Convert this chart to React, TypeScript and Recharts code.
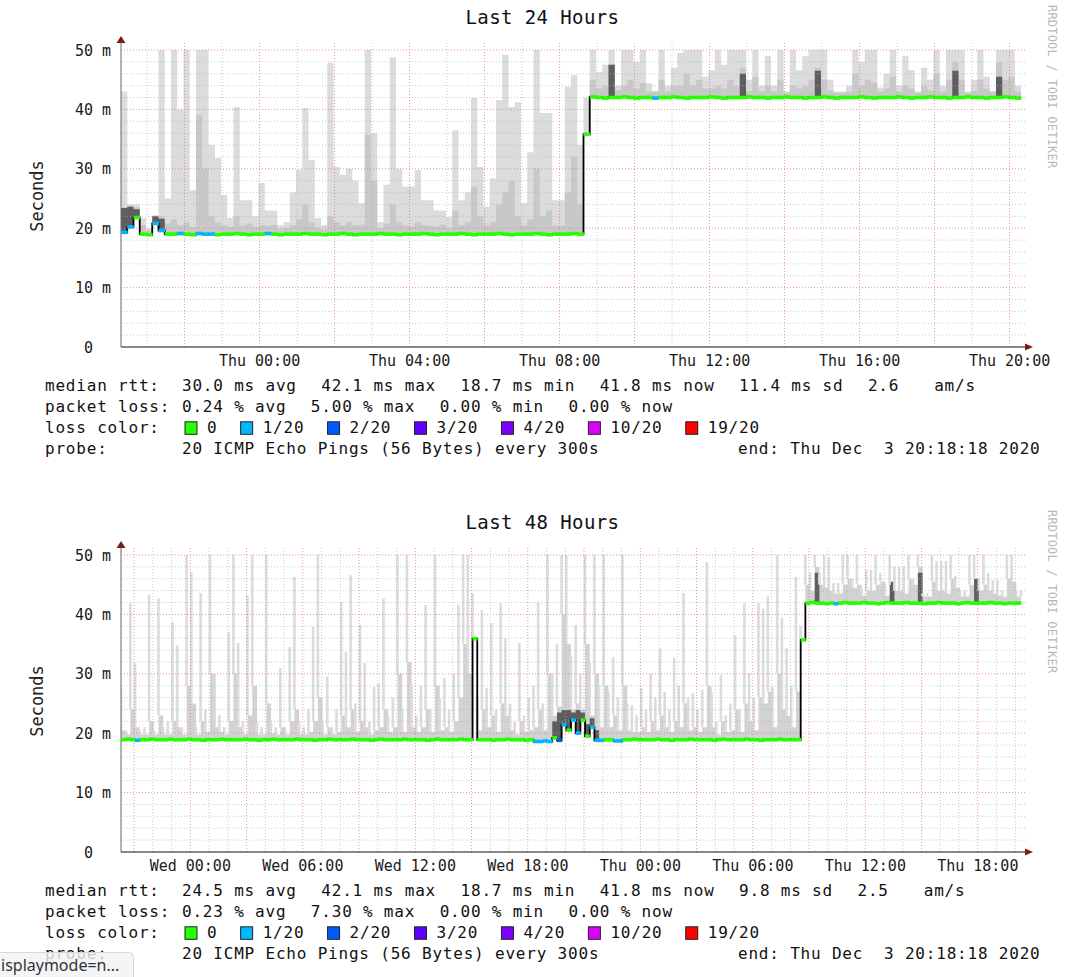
import React from 'react';
import { ComposedChart, Area, Bar, Line, Scatter, XAxis, YAxis, ReferenceLine, ReferenceDot } from 'recharts';

const MONO = "'DejaVu Sans Mono', monospace";

// smokeping loss colours
const lossLabels = ['0', '1/20', '2/20', '3/20', '4/20', '10/20', '19/20'];
const lossColors = ['#26ff00', '#00b8ff', '#0059ff', '#5e00ff', '#7e00ff', '#dd00ff', '#ff0000'];

const yTicks = [0, 10, 20, 30, 40, 50];

// ---- Last 24 Hours: 144 samples of 10 minutes, starting Wed 20:18 ----
const p1TickHours = [3.695, 7.695, 11.695, 15.695, 19.695, 23.695];
const p1TickLabels = ['Thu 00:00', 'Thu 04:00', 'Thu 08:00', 'Thu 12:00', 'Thu 16:00', 'Thu 20:00'];

const p1Max = [
  43, 24, 24, 21.7, 20, 22.2, 50, 25, 50, 40,
  50, 26.4, 50, 50, 34, 31.8, 25.6, 21.7, 40.4, 24.7,
  24.7, 22, 27.6, 23, 23, 20.5, 21, 26, 29.8, 40.2,
  31.5, 21.7, 20.5, 47.8, 30.3, 29, 30, 28, 24.2, 50,
  36, 21, 27.3, 48.8, 30, 27, 27, 29.8, 24.7, 24.7,
  23, 23, 21.9, 36.5, 24.7, 26, 41.9, 30.3, 23.6, 28.4,
  41.6, 49.2, 40.4, 41.2, 24.2, 32.8, 50, 39.4, 39.4, 24.7,
  24.7, 43.8, 45.8, 34, 42, 50, 46.3, 47.5, 50, 44,
  50, 50, 48, 50, 44.4, 43, 50, 44, 47, 49.5,
  50, 50, 50, 45.5, 46.6, 50, 47.5, 50, 50, 50,
  45, 50, 44, 49, 44, 50, 43, 50, 46.6, 49,
  50, 50, 50, 45, 43, 43, 44, 50, 48, 50,
  50, 43.7, 46, 50, 44, 49, 46.6, 43, 47, 45,
  50, 44, 50, 50, 50, 43, 45, 50, 45.5, 43,
  50, 50, 50, 44,
];

const p1Mid = [
  23.5, 23.8, 23.5, 20.5, 19.6, 22, 22, 20.8, 21.5, 20.5,
  21, 20.2, 39, 30, 22, 21, 20.5, 20.2, 22, 20.5,
  20.8, 20.2, 20.5, 20.4, 20.6, 19.8, 20, 20.5, 21.5, 24,
  21, 20, 19.8, 22, 21, 20.5, 21, 20.5, 20.6, 35.7,
  28, 20, 20.8, 24, 21, 20.5, 20.3, 21, 20.5, 20.4,
  20.2, 20.6, 20, 23, 20.5, 21, 27, 22, 20.5, 21,
  24, 26, 28, 22, 20.5, 21.5, 30, 22, 23, 20.5,
  20.4, 26, 32, 24, 36, 45, 43.5, 44, 47.5, 43.2,
  44, 45, 43.5, 44.5, 43, 43, 45, 43, 44, 44,
  46, 44, 45, 43.5, 43.5, 44, 43.5, 45, 44, 47,
  43, 45.5, 43, 44, 43, 45, 42.8, 44, 43.5, 44,
  45, 47, 45, 43.2, 42.8, 42.8, 43, 46, 44, 45,
  44.5, 43, 43.5, 45.5, 43, 44, 43.5, 42.8, 44, 43.2,
  46, 43, 45, 48, 45, 42.8, 43.2, 45, 43.5, 43,
  48, 45, 45.5, 43,
];

const p1Median = [
  19.3, 20.2, 21.8, 19.0, 18.9, 20.8, 19.6, 19.0, 19.0, 19.1,
  19.0, 18.9, 19.1, 19.0, 19.0, 18.9, 19.0, 19.0, 19.1, 19.0,
  18.9, 19.0, 19.0, 19.1, 19.0, 18.9, 19.0, 19.0, 19.0, 19.1,
  19.0, 19.0, 18.9, 19.0, 19.0, 19.1, 19.0, 18.9, 19.0, 19.0,
  19.0, 19.1, 19.0, 19.0, 18.9, 19.0, 19.0, 19.0, 19.1, 19.0,
  18.9, 19.0, 19.0, 19.0, 19.1, 19.0, 18.9, 19.0, 19.0, 19.0,
  19.1, 19.0, 18.9, 19.0, 19.0, 19.0, 19.1, 19.0, 18.9, 19.0,
  19.0, 19.0, 19.1, 19.0, 35.8, 42.1, 42.0, 41.9, 42.0, 42.0,
  42.1, 42.0, 41.9, 42.0, 42.0, 41.9, 42.0, 42.0, 42.1, 42.0,
  41.9, 42.0, 42.0, 42.0, 42.1, 42.0, 41.9, 42.0, 42.0, 42.0,
  42.1, 42.0, 42.0, 41.9, 42.0, 42.0, 42.1, 42.0, 42.0, 41.9,
  42.0, 42.0, 42.1, 42.0, 41.9, 42.0, 42.0, 42.0, 42.1, 42.0,
  41.9, 42.0, 42.0, 42.0, 42.1, 42.0, 41.9, 42.0, 42.0, 42.1,
  42.0, 42.0, 41.9, 42.0, 42.0, 42.1, 42.0, 42.0, 41.9, 42.0,
  42.0, 42.1, 42.0, 41.9,
];

const p1Loss = [
  1, 1, 0, 0, 0, 1, 1, 0, 0, 1,
  0, 0, 1, 1, 1, 0, 0, 0, 0, 0,
  0, 0, 0, 1, 0, 0, 0, 0, 0, 0,
  0, 0, 0, 0, 0, 0, 0, 0, 0, 0,
  0, 0, 0, 0, 0, 0, 0, 0, 0, 0,
  0, 0, 0, 0, 0, 0, 0, 0, 0, 0,
  0, 0, 0, 0, 0, 0, 0, 0, 0, 0,
  0, 0, 0, 0, 0, 0, 0, 0, 0, 0,
  0, 0, 0, 0, 0, 1, 0, 0, 0, 0,
  0, 0, 0, 0, 0, 0, 0, 0, 0, 0,
  0, 0, 0, 0, 0, 0, 0, 0, 0, 0,
  0, 0, 0, 0, 0, 0, 0, 0, 0, 0,
  0, 0, 0, 0, 0, 0, 0, 0, 0, 0,
  0, 0, 0, 0, 0, 0, 0, 0, 0, 0,
  0, 0, 0, 0,
];

// dark smoke close to the median: [sample, top]
const p1Dense: [number, number][] = [
  [0, 23.4], [1, 23.6], [2, 23.2], [5, 22], [6, 21.6], [78, 47.5], [99, 46], [111, 46.5], [133, 46.5], [140, 45.5],
];

const p1Stats = ['30.0 ms avg', '42.1 ms max', '18.7 ms min', '41.8 ms now', '11.4 ms sd', '2.6 ', 'am/s'];
const p1LossStats = ['0.24 % avg', '5.00 % max', '0.00 % min', '0.00 % now'];

// ---- Last 48 Hours: 192 samples of 15 minutes, starting Tue 20:18 ----
const p2TickHours = [3.695, 9.695, 15.695, 21.695, 27.695, 33.695, 39.695, 45.695];
const p2TickLabels = ['Wed 00:00', 'Wed 06:00', 'Wed 12:00', 'Wed 18:00', 'Thu 00:00', 'Thu 06:00', 'Thu 12:00', 'Thu 18:00'];

const p2Max = [
  27.4, 20.5, 41.9, 31.8, 20.5, 21, 43.3, 20.5, 42.7, 21,
  22, 38.7, 34.8, 21, 50, 47.1, 21, 43.6, 24, 50,
  30, 23, 21, 37, 50, 35.2, 22, 43.3, 50, 22,
  21, 50, 22, 21, 31, 21, 34.5, 46.3, 22, 21,
  24, 37.9, 50, 22, 29.5, 21, 24, 42.1, 33.7, 46.6,
  25, 38.2, 31.8, 22, 27.8, 28.4, 42.7, 23, 26, 50,
  24, 50, 28, 23, 28, 41.6, 24, 50, 26, 29.3,
  24, 30, 41.6, 50, 50, 43.6, 26, 40.7, 27.6, 38.5,
  24, 41.9, 36, 25, 22, 35.2, 23, 26, 28, 42.1,
  25, 50, 30, 35, 50, 50, 33, 38.2, 30, 50,
  32, 50, 28, 50, 27, 32.8, 26, 50, 25, 24.7,
  23, 27.6, 24, 30, 26, 34.3, 27, 24, 32.7, 28,
  43.6, 26, 26.8, 24, 27.3, 48.8, 26.8, 22, 29.8, 23,
  25, 36.5, 24, 41.9, 30.1, 26, 41.9, 41, 43, 27.8,
  50, 39.4, 34.3, 28, 46.3, 38, 50, 47, 50, 47,
  50, 49.6, 45.3, 45.3, 50, 50, 46, 50, 44.6, 47.5,
  47.5, 50, 47, 45.3, 50, 48, 48, 48, 50, 46,
  50, 43.6, 43.6, 50, 49, 49, 49, 50, 46.5, 44,
  44, 50, 50, 46, 50, 47, 45.8, 45.8, 44, 50,
  50, 44,
];

const p2Mid = [
  20.5, 19.8, 24, 21, 19.8, 19.8, 22, 19.8, 23, 19.8,
  19.8, 22, 21, 19.8, 28, 25, 19.8, 22, 20.2, 30,
  21, 20.2, 19.8, 22, 30, 21, 19.8, 23, 28, 19.8,
  19.8, 25, 20, 19.8, 21, 19.8, 22, 24, 19.8, 19.8,
  20.2, 22, 26, 19.8, 21, 19.8, 20.2, 23, 21, 24,
  20.2, 22, 21, 19.8, 20.5, 21, 24, 20.2, 21, 30,
  20.2, 32, 21, 20.2, 21, 24, 20.2, 28, 20.5, 21,
  20.2, 22, 26, 35, 30, 36, 20.5, 24, 21, 23,
  20.2, 25, 23, 20.5, 19.8, 22, 20.2, 20.5, 21, 24,
  20.5, 30, 23, 24.5, 40, 35, 24, 25, 24, 35,
  23, 30, 21, 28, 21, 23, 20.5, 28, 20.5, 20.2,
  20.2, 21, 20.2, 22, 20.5, 23, 21, 20.2, 22, 21,
  25, 20.5, 21, 20.2, 21, 28, 21, 19.8, 22, 20.2,
  20.5, 24, 20.2, 25, 22, 20.5, 26, 25, 27, 21,
  30, 24, 23, 21, 27, 36, 45, 44, 48, 45,
  44.5, 44, 43.5, 43.5, 45, 46, 44.5, 45, 43.2, 44,
  44, 45, 45.5, 43.2, 45, 44, 44, 43.5, 46, 45,
  48, 43, 43, 45.5, 44, 44, 43.5, 46, 44.5, 43,
  43, 45, 46, 44, 45, 44, 43.5, 43.2, 43, 46,
  45.5, 43,
];

const p2Median = [
  18.9, 19.0, 18.9, 18.8, 18.9, 18.9, 19.0, 18.9, 18.9, 18.9,
  19.0, 18.9, 18.9, 18.9, 19.0, 18.9, 18.9, 18.8, 18.9, 18.9,
  18.9, 19.0, 18.9, 18.9, 18.9, 18.9, 19.0, 18.9, 18.9, 18.8,
  18.9, 18.9, 19.0, 18.9, 18.9, 18.9, 18.9, 19.0, 18.9, 18.9,
  18.9, 18.8, 18.9, 18.9, 19.0, 18.9, 18.9, 18.9, 18.9, 19.0,
  18.9, 18.9, 18.9, 18.8, 18.9, 19.0, 18.9, 18.9, 18.9, 18.9,
  19.0, 18.9, 18.9, 18.9, 18.9, 18.8, 18.9, 19.0, 18.9, 18.9,
  18.9, 18.9, 19.0, 18.9, 18.9, 35.9, 18.9, 18.9, 18.9, 18.8,
  18.9, 18.9, 19.0, 18.9, 18.9, 18.9, 18.8, 18.9, 18.6, 18.6,
  18.7, 18.6, 19.2, 18.8, 21.4, 20.5, 22.2, 20.0, 22.2, 19.5,
  21.0, 18.8, 18.8, 18.9, 18.9, 18.7, 18.7, 18.9, 18.9, 19.0,
  18.9, 18.9, 18.9, 18.9, 19.0, 18.9, 18.9, 18.8, 18.9, 18.9,
  18.9, 19.0, 18.9, 18.9, 18.9, 18.9, 18.8, 18.9, 19.0, 18.9,
  18.9, 18.9, 18.9, 19.0, 18.9, 18.9, 18.8, 18.9, 18.9, 18.9,
  19.0, 18.9, 18.9, 18.9, 18.9, 35.7, 41.9, 42.0, 41.9, 41.9,
  41.8, 41.9, 41.8, 41.9, 42.0, 41.9, 41.9, 41.9, 42.0, 41.9,
  41.9, 41.8, 41.9, 42.0, 41.9, 41.9, 41.9, 42.0, 41.9, 41.9,
  41.9, 41.8, 41.9, 41.9, 42.0, 41.9, 41.9, 41.9, 41.8, 41.9,
  42.0, 41.9, 41.9, 41.9, 41.9, 42.0, 41.9, 41.9, 41.8, 41.9,
  41.9, 41.9,
];

const p2Loss = [
  0, 0, 0, 1, 0, 0, 0, 0, 0, 0,
  0, 0, 0, 0, 0, 0, 0, 0, 0, 0,
  0, 0, 0, 0, 0, 0, 0, 0, 0, 0,
  0, 0, 0, 0, 0, 0, 0, 0, 0, 0,
  0, 0, 0, 0, 0, 0, 0, 0, 0, 0,
  0, 0, 0, 0, 0, 0, 0, 0, 0, 0,
  0, 0, 0, 0, 0, 0, 0, 0, 0, 0,
  0, 0, 0, 0, 0, 0, 0, 0, 0, 0,
  0, 0, 0, 0, 0, 0, 0, 0, 1, 1,
  1, 1, 0, 2, 1, 0, 1, 1, 0, 0,
  1, 1, 1, 0, 0, 1, 1, 0, 0, 0,
  0, 0, 0, 0, 0, 0, 0, 0, 0, 0,
  0, 0, 0, 0, 0, 0, 0, 0, 0, 0,
  0, 0, 0, 0, 0, 0, 0, 0, 0, 0,
  0, 0, 0, 0, 0, 0, 0, 0, 0, 0,
  0, 0, 1, 0, 0, 0, 0, 0, 0, 0,
  0, 0, 0, 0, 0, 0, 0, 0, 0, 0,
  0, 0, 0, 0, 0, 0, 0, 0, 0, 0,
  0, 0, 0, 0, 0, 0, 0, 0, 0, 0,
  0, 0,
];

const p2Dense: [number, number][] = [
  [92, 22], [93, 23.5], [94, 23.9], [95, 23.9], [96, 23.5], [97, 23.9], [98, 23.5], [99, 21.5], [100, 22.5],
  [101, 20.5], [148, 47], [164, 45.5], [170, 47], [182, 46],
];

const p2Stats = ['24.5 ms avg', '42.1 ms max', '18.7 ms min', '41.8 ms now', '9.8 ms sd', '2.5 ', 'am/s'];
const p2LossStats = ['0.23 % avg', '7.30 % max', '0.00 % min', '0.00 % now'];

const probeText = '20 ICMP Echo Pings (56 Bytes) every 300s';
const endText = 'end: Thu Dec  3 20:18:18 2020';

// ---- layout ----
const CHART_W = 1074;
const CHART_H = 380;
const PLOT_L = 121;
const PLOT_R = 1025;
const PLOT_TOP = 43;
const AXIS_H = 33;
const Y_MAX = 50 * (CHART_H - AXIS_H - PLOT_TOP) / (CHART_H - AXIS_H - 50);
const PANEL_SHIFT = 505;
const ADV = 10.434;
const ITEM_GAP = 24.5;

const SMOKE_LIGHT = '#dcdcdc';
const SMOKE_DARK = '#5e5e5e';
const RED_GRID = '#e87878';
const GREY_GRID = '#b4b4b4';
const ARROW = '#7a1a1a';

type Row = { t: number; median: number; max: number; mid: number; dense: number; loss: number };

function buildRows(max: number[], mid: number[], median: number[], loss: number[], dense: [number, number][], step: number) {
  const denseAt = new Map(dense);
  const rows: Row[] = median.map((m, i) => ({
    t: i * step,
    median: m,
    max: max[i],
    mid: mid[i],
    dense: denseAt.get(i) ?? m,
    loss: loss[i],
  }));
  return rows;
}

interface PanelCfg {
  title: string;
  hours: number;
  step: number;
  majorEvery: number;
  majorPhase: number;
  tickHours: number[];
  tickLabels: string[];
  rows: Row[];
  stats: string[];
  lossStats: string[];
  midColor: string;
  spikeBar: number; // 0 = continuous smoke, otherwise width of the spikes in px
}

const panels: PanelCfg[] = [
  {
    title: 'Last 24 Hours', hours: 24, step: 1 / 6, majorEvery: 2, majorPhase: 1,
    tickHours: p1TickHours, tickLabels: p1TickLabels,
    rows: buildRows(p1Max, p1Mid, p1Median, p1Loss, p1Dense, 1 / 6),
    stats: p1Stats, lossStats: p1LossStats, midColor: '#c8c8c8', spikeBar: 0,
  },
  {
    title: 'Last 48 Hours', hours: 48, step: 0.25, majorEvery: 3, majorPhase: 0,
    tickHours: p2TickHours, tickLabels: p2TickLabels,
    rows: buildRows(p2Max, p2Mid, p2Median, p2Loss, p2Dense, 0.25),
    stats: p2Stats, lossStats: p2LossStats, midColor: '#d2d2d2', spikeBar: 2.6,
  },
];

function flow(items: string[], x0: number, gap: number) {
  let x = x0;
  return items.map((s) => {
    const at = x;
    x += s.length * ADV + gap;
    return { s, at };
  });
}

function SmokeChart({ cfg }: { cfg: PanelCfg }) {
  const pxPerHour = 900 / cfg.hours;
  const xMax = (PLOT_R - PLOT_L) / pxPerHour;
  const segW = cfg.step * pxPerHour;
  const last = cfg.rows[cfg.rows.length - 1];
  const data = [...cfg.rows, { ...last, t: cfg.rows.length * cfg.step }];

  const hLines: { v: number; major: boolean }[] = [];
  for (let v = 2; v <= 50; v += 2) hLines.push({ v, major: v % 10 === 0 });
  const vLines: { v: number; major: boolean }[] = [];
  for (let k = 0; 0.695 + k <= xMax; k++) vLines.push({ v: 0.695 + k, major: k % cfg.majorEvery === cfg.majorPhase });

  return (
    <ComposedChart
      width={CHART_W}
      height={CHART_H}
      data={data}
      margin={{ top: PLOT_TOP, right: CHART_W - PLOT_R, bottom: 0, left: 0 }}
    >
      <XAxis
        dataKey="t"
        type="number"
        domain={[0, xMax]}
        allowDataOverflow
        ticks={cfg.tickHours}
        interval={0}
        height={AXIS_H}
        tickSize={0}
        tickMargin={0}
        tickLine={false}
        axisLine={{ stroke: '#111', strokeWidth: 1.2 }}
        tick={(p: any) => (
          <text x={p.x} y={p.y + 19} textAnchor="middle" fontFamily={MONO} fontSize={15} fill="#1a1a1a">
            {cfg.tickLabels[cfg.tickHours.indexOf(p.payload.value)]}
          </text>
        )}
      />
      <YAxis
        type="number"
        domain={[0, Y_MAX]}
        allowDataOverflow
        ticks={yTicks}
        interval={0}
        width={PLOT_L}
        tickSize={0}
        tickMargin={10}
        tickLine={false}
        axisLine={{ stroke: '#666' }}
        tick={(p: any) => (
          <text
            x={p.x}
            y={p.y}
            dy={5.5}
            textAnchor="end"
            fontFamily={MONO}
            fontSize={15}
            fill="#1a1a1a"
            xmlSpace="preserve"
            style={{ whiteSpace: 'pre' }}
          >
            {p.payload.value === 0 ? '0  ' : `${p.payload.value} m`}
          </text>
        )}
      />

      {cfg.spikeBar === 0 && (
        <Area type="stepAfter" dataKey={(d: Row) => [d.median, d.max]} fill={SMOKE_LIGHT} fillOpacity={1} stroke="none" dot={false} activeDot={false} isAnimationActive={false} />
      )}
      <Area type="stepAfter" dataKey={(d: Row) => [d.median, d.mid]} fill={cfg.midColor} fillOpacity={1} stroke="none" dot={false} activeDot={false} isAnimationActive={false} />
      <Area type="stepAfter" dataKey={(d: Row) => [d.median, d.dense]} fill={SMOKE_DARK} fillOpacity={1} stroke="none" dot={false} activeDot={false} isAnimationActive={false} />
      {cfg.spikeBar > 0 && (
        <Bar data={cfg.rows} dataKey={(d: Row) => [d.mid, d.max]} barSize={cfg.spikeBar} fill={SMOKE_LIGHT} isAnimationActive={false} />
      )}

      {hLines.map((g) => (
        <ReferenceLine key={`h${g.v}`} y={g.v} stroke={g.major ? RED_GRID : GREY_GRID} strokeOpacity={g.major ? 0.8 : 0.7} strokeDasharray="1 2" />
      ))}
      {vLines.map((g) => (
        <ReferenceLine key={`v${g.v}`} x={g.v} stroke={g.major ? RED_GRID : GREY_GRID} strokeOpacity={g.major ? 0.8 : 0.7} strokeDasharray="1 2" />
      ))}

      <Line type="stepAfter" dataKey="median" stroke="#000" strokeWidth={1.8} dot={false} activeDot={false} isAnimationActive={false} />
      <Scatter
        data={cfg.rows}
        dataKey="median"
        isAnimationActive={false}
        shape={(p: any) => (
          <rect x={p.cx} y={p.cy - 1.8} width={segW + 0.4} height={3.6} fill={lossColors[p.payload.loss]} />
        )}
      />

      <ReferenceDot
        x={0}
        y={Y_MAX}
        r={0}
        ifOverflow="visible"
        shape={(p: any) => <path d={`M${p.cx - 4.5},${p.cy} L${p.cx + 4.5},${p.cy} L${p.cx},${p.cy - 7} Z`} fill={ARROW} />}
      />
      <ReferenceDot
        x={xMax}
        y={0}
        r={0}
        ifOverflow="visible"
        shape={(p: any) => <path d={`M${p.cx},${p.cy - 3.5} L${p.cx},${p.cy + 3.5} L${p.cx + 8},${p.cy} Z`} fill={ARROW} />}
      />
    </ComposedChart>
  );
}

function PanelText({ cfg, oy }: { cfg: PanelCfg; oy: number }) {
  const base = [391.3, 412.3, 433.3, 454.3].map((b) => b + oy);
  const txt = { fontFamily: MONO, fontSize: 16, letterSpacing: 0.8, fill: '#111' } as const;
  const stats = flow(cfg.stats, 182, ITEM_GAP);
  const lossStats = flow(cfg.lossStats, 182, ITEM_GAP);
  let sx = 184.5;
  const legend = lossLabels.map((label, i) => {
    const at = sx;
    sx = at + 22.5 + label.length * ADV + 22.7;
    return { label, at, color: lossColors[i] };
  });
  return (
    <g>
      <text x={542.5} y={24 + oy} textAnchor="middle" fontFamily={MONO} fontSize={19} letterSpacing={0.4} fill="#111">
        {cfg.title}
      </text>
      <text
        x={43}
        y={196 + oy}
        transform={`rotate(-90, 43, ${196 + oy})`}
        textAnchor="middle"
        fontFamily={MONO}
        fontSize={17}
        fill="#222"
      >
        Seconds
      </text>
      <text
        x={1048}
        y={5 + oy}
        transform={`rotate(90, 1048, ${5 + oy})`}
        fontFamily={MONO}
        fontSize={12}
        letterSpacing={0.2}
        fill="#b8b8b8"
      >
        RRDTOOL / TOBI OETIKER
      </text>

      <text x={45} y={base[0]} {...txt}>median rtt:</text>
      {stats.map((s) => (
        <text key={s.s} x={s.at} y={base[0]} {...txt} xmlSpace="preserve" style={{ whiteSpace: 'pre' }}>{s.s}</text>
      ))}
      <text x={45} y={base[1]} {...txt}>packet loss:</text>
      {lossStats.map((s, i) => (
        <text key={i} x={s.at} y={base[1]} {...txt} xmlSpace="preserve" style={{ whiteSpace: 'pre' }}>{s.s}</text>
      ))}
      <text x={45} y={base[2]} {...txt}>loss color:</text>
      {legend.map((l) => (
        <g key={l.label}>
          <rect x={l.at + 0.5} y={base[2] - 11.5} width={12} height={12.5} fill={l.color} stroke="#222" strokeWidth={1} />
          <text x={l.at + 22.5} y={base[2]} {...txt}>{l.label}</text>
        </g>
      ))}
      <text x={45} y={base[3]} {...txt}>probe:</text>
      <text x={182} y={base[3]} {...txt}>{probeText}</text>
      <text x={738} y={base[3]} {...txt} xmlSpace="preserve" style={{ whiteSpace: 'pre' }}>{endText}</text>
    </g>
  );
}

export default function App() {
  return (
    <div style={{ position: 'absolute', left: 0, top: 0, width: 1074, height: 977, background: '#fff', overflow: 'hidden' }}>
      {panels.map((cfg, i) => (
        <div key={cfg.title} style={{ position: 'absolute', left: 0, top: i * PANEL_SHIFT }}>
          <SmokeChart cfg={cfg} />
        </div>
      ))}
      <svg width={1074} height={977} style={{ position: 'absolute', left: 0, top: 0, pointerEvents: 'none' }}>
        {panels.map((cfg, i) => (
          <PanelText key={cfg.title} cfg={cfg} oy={i * PANEL_SHIFT} />
        ))}
      </svg>
      <div
        style={{
          position: 'absolute',
          left: 0,
          top: 952,
          width: 134,
          height: 25,
          background: 'rgba(241,243,245,0.82)',
          borderTop: '1px solid #d6d9de',
          borderRight: '1px solid #d6d9de',
          borderTopRightRadius: 5,
          fontFamily: "'Noto Sans', sans-serif",
          fontSize: 16,
          lineHeight: '24px',
          color: '#333',
          whiteSpace: 'pre',
          overflow: 'hidden',
          paddingLeft: 1,
          boxSizing: 'border-box',
        }}
      >
        isplaymode=n...
      </div>
    </div>
  );
}
